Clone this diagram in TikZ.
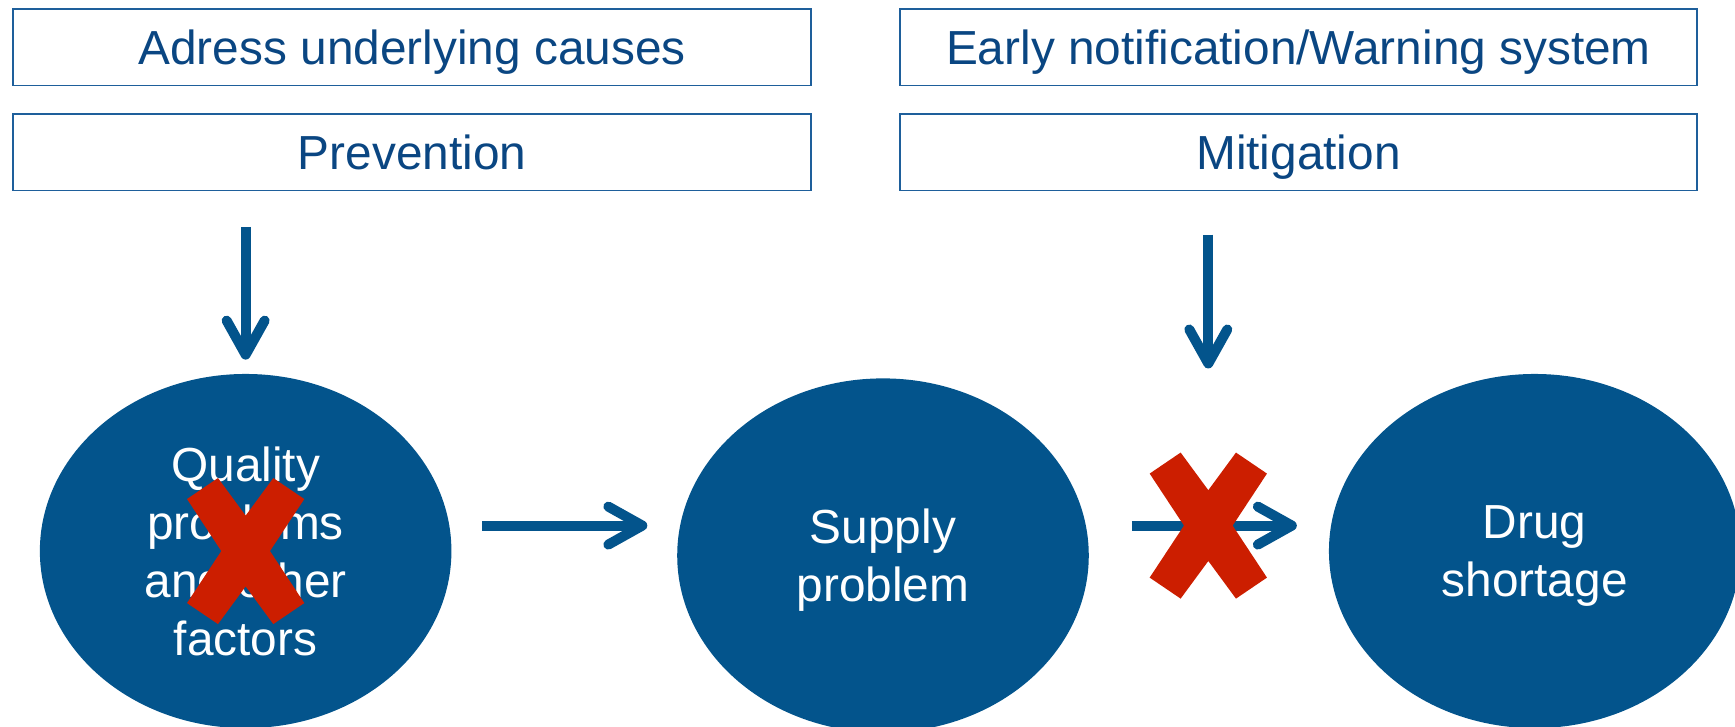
\documentclass[tikz,border=0pt]{standalone}
\usepackage{fontspec}
\setmainfont{Liberation Sans}
\usetikzlibrary{shapes.geometric,arrows.meta}
\definecolor{ellblue}{RGB}{3,84,140}
\definecolor{txtblue}{RGB}{10,70,130}
\definecolor{boxline}{RGB}{30,95,155}
\definecolor{xred}{RGB}{204,30,0}
\begin{document}
\begin{tikzpicture}[x=0.5533pt,y=-0.5533pt,
  topbox/.style={draw=boxline,line width=0.9pt,minimum width=398.9pt,minimum height=38.4pt,inner sep=0pt,
    text depth=0pt,text=txtblue,font=\fontsize{23.9}{29}\selectfont},
  blob/.style={ellipse,fill=ellblue,minimum width=205.8pt,minimum height=177.1pt,inner sep=0pt,
    text depth=0pt,text=white,align=center,font=\fontsize{23.9}{29}\selectfont},
  arr/.style={draw=ellblue,line width=5pt,-{Straight Barb[round,length=17pt,width=19pt]}},
  redx/.style={fill=xred}]
\useasboundingbox (0,0) rectangle (1568,657);
\clip (0,0) rectangle (1568,657);
% boxes
\node[topbox] (b1) at (372.5,42.5) {Adress underlying causes};
\node[topbox] (b2) at (372.5,137.5) {Prevention};
\node[topbox] (b3) at (1173.5,42.5) {Early notification/Warning system};
\node[topbox] (b4) at (1173.5,137.5) {Mitigation};
% ellipses
\node[blob] (e1) at (222,498) {Quality\\problems\\and other\\factors};
\node[blob] (e2) at (798,502) {Supply\\problem};
\node[blob] (e3) at (1387,498) {Drug\\shortage};
% arrow ends
\coordinate (v1s) at (222,205);
\coordinate (v1e) at (222,325);
\coordinate (v2s) at (1092,212);
\coordinate (v2e) at (1092,333);
\coordinate (h1s) at (436,475);
\coordinate (h1e) at (585,475);
\coordinate (h2s) at (1023,475);
\coordinate (h2e) at (1172,475);
\draw[arr] (v1s) -- (v1e);
\draw[arr] (v2s) -- (v2e);
\draw[arr] (h1s) -- (h1e);
\draw[arr] (h2s) -- (h2e);
% red crosses
\coordinate (x1) at (222,498);
\coordinate (x2) at (1092,475);
\foreach \c in {x1,x2}{
  \fill[redx,shift={(\c)}] (-53,-47) -- (-25,-66) -- (0,-32) -- (25,-66) -- (53,-47) -- (22,0)
    -- (53,47) -- (25,66) -- (0,32) -- (-25,66) -- (-53,47) -- (-22,0) -- cycle;
}
\end{tikzpicture}
\end{document}
